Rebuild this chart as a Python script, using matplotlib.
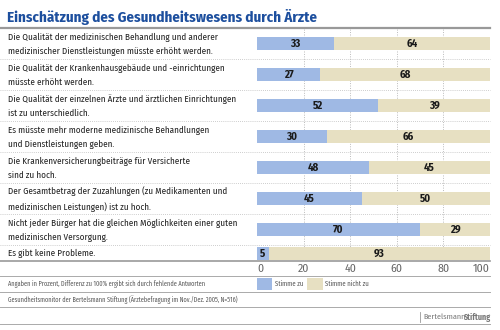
import matplotlib
matplotlib.use('Agg')
import matplotlib.pyplot as plt

# Werte (Prozent)
aussagen = [
    "Die Qualität der medizinischen Behandlung und anderer\nmedizinischer Dienstleistungen müsste erhöht werden.",
    "Die Qualität der Krankenhausgebäude und -einrichtungen\nmüsste erhöht werden.",
    "Die Qualität der einzelnen Ärzte und ärztlichen Einrichtungen\nist zu unterschiedlich.",
    "Es müsste mehr moderne medizinische Behandlungen\nund Dienstleistungen geben.",
    "Die Krankenversicherungbeiträge für Versicherte\nsind zu hoch.",
    "Der Gesamtbetrag der Zuzahlungen (zu Medikamenten und\nmedizinischen Leistungen) ist zu hoch.",
    "Nicht jeder Bürger hat die gleichen Möglichkeiten einer guten\nmedizinischen Versorgung.",
    "Es gibt keine Probleme.",
]
stimme_zu = [33, 27, 52, 30, 48, 45, 70, 5]
stimme_nicht_zu = [64, 68, 39, 66, 45, 50, 29, 93]
ticks = [0, 20, 40, 60, 80, 100]

titel = "Einschätzung des Gesundheitswesens durch Ärzte"
fussnote = "Angaben in Prozent, Differenz zu 100% ergibt sich durch fehlende Antworten"
quelle = "Gesundheitsmonitor der Bertelsmann Stiftung (Ärztebefragung im Nov./Dez. 2005, N=516)"

BLAU = '#9fb9e4'
BEIGE = '#e7e0c2'
TITEL_BLAU = '#1d4f9e'
FONT = ['Fira Sans Condensed', 'Roboto Condensed', 'DejaVu Sans']

plt.rcParams['font.family'] = FONT

W, H = 500, 330
fig = plt.figure(figsize=(W / 100, H / 100), dpi=100)

# Overlay in Pixelkoordinaten für Texte und Linien
ov = fig.add_axes([0, 0, 1, 1])
ov.set_xlim(0, W)
ov.set_ylim(H, 0)
ov.axis('off')

top, bottom = 28, 261
x0, x1 = 257, 490

# Zeilenhöhen nach Anzahl der Textzeilen
hoehen = [31 if '\n' in a else 16 for a in aussagen]
grenzen = [top]
for h in hoehen:
    grenzen.append(grenzen[-1] + h)
scale = (bottom - top) / (grenzen[-1] - top)
grenzen = [top + (g - top) * scale for g in grenzen]
mitten = [(grenzen[i] + grenzen[i + 1]) / 2 for i in range(len(aussagen))]

# Balken-Achse
ax = fig.add_axes([x0 / W, 1 - bottom / H, (x1 - x0) / W, (bottom - top) / H])
ax.set_xlim(0, 100)
ax.set_ylim(bottom, top)
ax.axis('off')
for t in ticks[1:-1]:
    ax.axvline(t, color='#bbbbbb', lw=0.7, ls=(0, (1, 1.5)), zorder=0)

bh = 13
ax.barh(mitten, stimme_zu, height=bh, color=BLAU, zorder=2)
rest = [100 - z for z in stimme_zu]
ax.barh(mitten, rest, left=stimme_zu, height=bh, color=BEIGE, zorder=2)
for y, a, b in zip(mitten, stimme_zu, stimme_nicht_zu):
    ax.text(a / 2, y + 0.5, str(a), ha='center', va='center', fontsize=7.8,
            fontweight='bold', color='#1a1a1a', zorder=3)
    ax.text(a + (100 - a) / 2, y + 0.5, str(b), ha='center', va='center',
            fontsize=7.8, fontweight='bold', color='#1a1a1a', zorder=3)

# Titel
ov.text(7, 17, titel, fontsize=10.8, fontweight='bold', color=TITEL_BLAU,
        ha='left', va='center')
ov.plot([0, x1], [top, top], color='#999999', lw=1.6)

# Zeilentexte und Trennlinien
for y, a in zip(mitten, aussagen):
    ov.text(8, y + 0.5, a, fontsize=6.5, color='#222222', ha='left', va='center',
            linespacing=1.7)
for g in grenzen[1:-1]:
    ov.plot([0, x1], [g, g], color='#bdbdbd', lw=0.6, ls=(0, (1, 1.5)))
ov.plot([0, x1], [bottom, bottom], color='#999999', lw=1.2)

# Achsenbeschriftung
for t in ticks:
    px = x0 + (x1 - x0) * t / 100
    ha = 'left' if t == ticks[0] else ('right' if t == ticks[-1] else 'center')
    ov.text(px, 268.5, str(t), fontsize=8.5, color='#666666', ha=ha, va='center')
ov.plot([0, x1], [276, 276], color='#aaaaaa', lw=0.7)

# Legende und Fußnoten
ov.text(8, 284, fussnote, fontsize=4.5, color='#555555', ha='left', va='center')
ov.add_patch(plt.Rectangle((257, 278), 15, 12, color=BLAU, lw=0))
ov.text(275, 284, "Stimme zu", fontsize=4.8, color='#555555', ha='left', va='center')
ov.add_patch(plt.Rectangle((307, 278), 16, 12, color=BEIGE, lw=0))
ov.text(325, 284, "Stimme nicht zu", fontsize=4.8, color='#555555', ha='left', va='center')
ov.plot([0, x1], [292, 292], color='#aaaaaa', lw=0.7)
ov.text(8, 300, quelle, fontsize=4.5, color='#555555', ha='left', va='center')
ov.plot([0, x1], [307, 307], color='#aaaaaa', lw=0.7)

# Logo-Text
fig.canvas.draw()
r = fig.canvas.get_renderer()
st = ov.text(x1, 317, "Stiftung", fontsize=5.8, fontweight='bold', color='#777777',
             ha='right', va='center')
st_l = st.get_window_extent(renderer=r).x0
bt = ov.text(st_l + 2.5, 317, "Bertelsmann", fontsize=5.8, color='#777777',
             ha='right', va='center')
bt_l = bt.get_window_extent(renderer=r).x0
ov.plot([bt_l - 3, bt_l - 3], [312, 322], color='#999999', lw=0.6)
ov.plot([0, x1], [324, 324], color='#aaaaaa', lw=0.7)

fig.savefig('out.png', dpi=100)
